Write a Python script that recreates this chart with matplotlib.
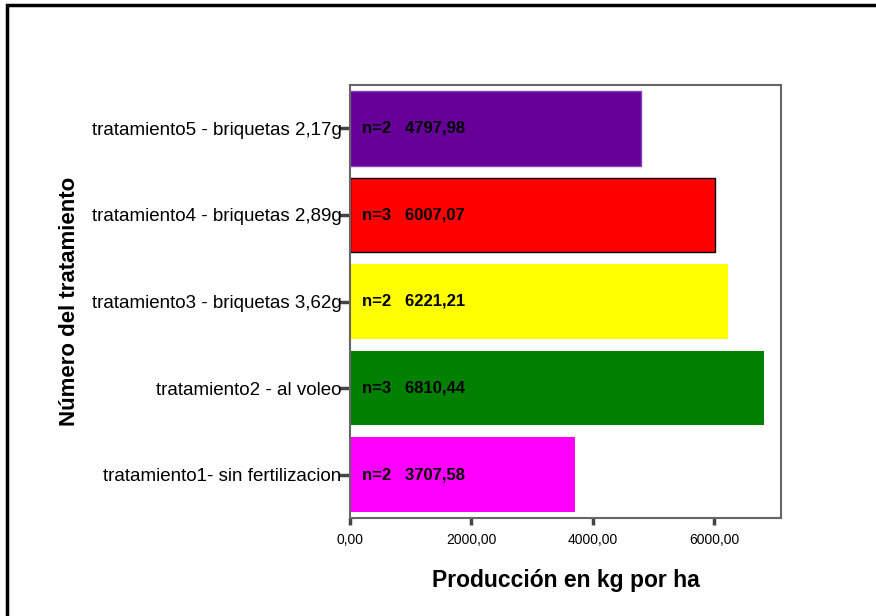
import matplotlib.pyplot as plt
from matplotlib.patches import Rectangle

plt.rcParams['font.family'] = ['Liberation Sans', 'DejaVu Sans']

tratamientos = ["tratamiento1- sin fertilizacion", "tratamiento2 - al voleo",
                "tratamiento3 - briquetas 3,62g", "tratamiento4 - briquetas 2,89g",
                "tratamiento5 - briquetas 2,17g"]
produccion = [3707.58, 6810.44, 6221.21, 6007.07, 4797.98]
n = [2, 3, 2, 3, 2]
colores = ["#ff00ff", "#008000", "#ffff00", "#ff0000", "#660099"]
bordes = ["none", "none", "none", "black", "#8a3fc0"]
xticks = [0, 2000, 4000, 6000]

W, H = 876, 616
fig = plt.figure(figsize=(W / 100, H / 100), dpi=100)
ax = fig.add_axes([350 / W, 1 - 518 / H, (781 - 350) / W, (518 - 85) / H])

# outer frame
fig.patches.append(Rectangle((7 / W, -0.05), 1.1, 1 - 5 / H + 0.05, transform=fig.transFigure,
                             fill=False, edgecolor="black", linewidth=2.5))

ypos = list(range(len(tratamientos)))
ax.barh(ypos, produccion, height=0.86, color=colores, edgecolor=bordes, linewidth=1)
for y, v, k in zip(ypos, produccion, n):
    ax.text(190, y, f"n={k}   {v:.2f}".replace(".", ","), va="center", ha="left",
            fontsize=12, fontweight="bold")

ax.set_xlim(0, 7095)
ax.set_ylim(-0.5, 4.5)
ax.set_yticks(ypos)
ax.set_yticklabels(tratamientos, fontsize=13.5)
ax.set_xticks(xticks)
ax.set_xticklabels([f"{t:.2f}".replace(".", ",") for t in xticks], fontsize=10)

for s in ax.spines.values():
    s.set_color("#666666")
    s.set_linewidth(1.5)
ax.tick_params(axis="x", length=5, width=2.5, color="#444444", pad=6)
ax.tick_params(axis="y", length=8, width=2.5, color="#444444", pad=-2)

ax.set_xlabel("Producción en kg por ha", fontsize=16.5, fontweight="bold", labelpad=16)
ax.set_ylabel("Número del tratamiento", fontsize=16, fontweight="bold")
ax.yaxis.set_label_coords(-0.626, 0.5)

fig.savefig("out.png", dpi=100)
